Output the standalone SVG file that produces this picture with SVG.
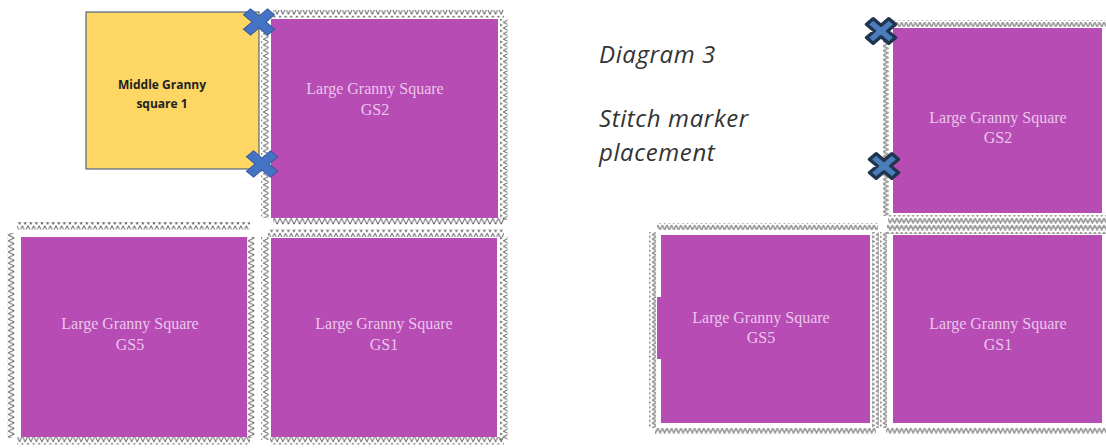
<svg xmlns="http://www.w3.org/2000/svg" width="1106" height="448" viewBox="0 0 1106 448">
<defs>
<pattern id="zzh" patternUnits="userSpaceOnUse" width="5.6" height="7.5"><path d="M0 0.6 L2.8 6.9 L5.6 0.6" fill="none" stroke="#4a4a4a" stroke-width="0.9"/></pattern>
<pattern id="zzv" patternUnits="userSpaceOnUse" width="7.5" height="5.6"><path d="M0.6 0 L6.9 2.8 L0.6 5.6" fill="none" stroke="#4a4a4a" stroke-width="0.9"/></pattern>
<pattern id="gzh" patternUnits="userSpaceOnUse" width="4.6" height="7"><path d="M0 1 L2.3 6 L4.6 1" fill="none" stroke="#999" stroke-width="1.6"/></pattern>
<pattern id="gzv" patternUnits="userSpaceOnUse" width="7" height="4.6"><path d="M1 0 L6 2.3 L1 4.6" fill="none" stroke="#999" stroke-width="1.6"/></pattern>
<path id="xm" d="M-5 -17 L5 -17 L5 -5 L17 -5 L17 5 L5 5 L5 17 L-5 17 L-5 5 L-17 5 L-17 -5 L-5 -5 Z" transform="rotate(45)"/>
<path id="xm2" d="M-4.5 -15 L4.5 -15 L4.5 -4.5 L15 -4.5 L15 4.5 L4.5 4.5 L4.5 15 L-4.5 15 L-4.5 4.5 L-15 4.5 L-15 -4.5 L-4.5 -4.5 Z" transform="rotate(45)"/>
</defs>
<style>
.sq{fill:#B74CB4}
.lbl{font-family:"Liberation Serif",serif;font-size:16px;fill:#EBC6EC;text-anchor:middle}
.x1{fill:#4472C4;stroke:#2F5597;stroke-width:1}
.x2{fill:#4A7EBB;stroke:#1F3550;stroke-width:3.5;stroke-linejoin:round}
.ttl{font-family:"Open Sans",sans-serif;font-style:italic;font-size:24px;letter-spacing:0.6px;fill:#333}
.mid{font-family:"Open Sans",sans-serif;font-weight:700;font-size:12px;fill:#222;text-anchor:middle}
</style>
<rect width="1106" height="448" fill="#fff"/>

<g id="middle-gs1">
<rect x="86" y="12" width="173" height="157" fill="#FDD663" stroke="#2F4F7F" stroke-width="1"/>
<text class="mid" x="162" y="89">Middle Granny</text>
<text class="mid" x="162" y="108">square 1</text>
</g>

<g id="left-gs2">
<rect x="273" y="10" width="231" height="7.5" fill="url(#zzh)"/>
<rect x="261" y="14" width="7.5" height="204" fill="url(#zzv)"/>
<rect x="500" y="19" width="7.5" height="201" fill="url(#zzv)"/>
<rect x="273" y="217" width="231" height="7.5" fill="url(#zzh)"/>
<rect class="sq" x="271" y="19" width="227" height="199"/>
<text class="lbl" x="375" y="94">Large Granny Square</text>
<text class="lbl" x="375" y="115">GS2</text>
</g>

<g id="left-gs5">
<rect x="17" y="222" width="233" height="7.5" fill="url(#zzh)"/>
<rect x="7" y="233" width="7.5" height="205" fill="url(#zzv)"/>
<rect x="247" y="237" width="7.5" height="201" fill="url(#zzv)"/>
<rect x="17" y="437" width="233" height="7.5" fill="url(#zzh)"/>
<rect class="sq" x="21" y="237" width="226" height="200"/>
<text class="lbl" x="130" y="329">Large Granny Square</text>
<text class="lbl" x="130" y="350">GS5</text>
</g>

<g id="left-gs1">
<rect x="268" y="229.5" width="236" height="7.5" fill="url(#zzh)"/>
<rect x="261" y="237" width="7.5" height="203" fill="url(#zzv)"/>
<rect x="500" y="237" width="7.5" height="203" fill="url(#zzv)"/>
<rect x="270" y="437" width="234" height="7.5" fill="url(#zzh)"/>
<rect class="sq" x="271" y="238" width="226" height="199"/>
<text class="lbl" x="384" y="329">Large Granny Square</text>
<text class="lbl" x="384" y="350">GS1</text>
</g>

<g id="left-markers">
<use href="#xm" class="x1" transform="translate(259 22) scale(1 0.85)"/>
<use href="#xm" class="x1" transform="translate(262 164) scale(1 0.85)"/>
</g>

<g id="title">
<text class="ttl" x="599" y="63">Diagram 3</text>
<text class="ttl" x="599" y="127">Stitch marker</text>
<text class="ttl" x="599" y="161">placement</text>
</g>

<g id="right-gs2">
<rect x="886" y="20" width="220" height="7" fill="url(#gzh)"/>
<rect x="883" y="28" width="7" height="188" fill="url(#gzv)"/>
<rect x="888" y="215" width="218" height="7" fill="url(#gzh)"/>
<rect class="sq" x="893" y="28" width="209" height="185"/>
<text class="lbl" x="998" y="123">Large Granny Square</text>
<text class="lbl" x="998" y="143">GS2</text>
</g>

<g id="right-gs5">
<rect x="657" y="223" width="221" height="7" fill="url(#gzh)"/>
<rect x="649" y="232" width="7" height="196" fill="url(#gzv)"/>
<rect x="872" y="232" width="7" height="196" fill="url(#gzv)"/>
<rect x="655" y="428" width="221" height="7" fill="url(#gzh)"/>
<rect class="sq" x="661" y="235" width="209" height="188"/>
<rect class="sq" x="657" y="297" width="6" height="62"/>
<text class="lbl" x="761" y="323">Large Granny Square</text>
<text class="lbl" x="761" y="343">GS5</text>
</g>

<g id="right-gs1">
<rect x="887" y="221" width="219" height="7" fill="url(#gzh)"/>
<rect x="887" y="227" width="219" height="7" fill="url(#gzh)"/>
<rect x="880" y="232" width="7" height="196" fill="url(#gzv)"/>
<rect x="886" y="427" width="220" height="7" fill="url(#gzh)"/>
<rect class="sq" x="893" y="235" width="209" height="188"/>
<text class="lbl" x="998" y="329">Large Granny Square</text>
<text class="lbl" x="998" y="350">GS1</text>
</g>

<g id="right-markers">
<use href="#xm2" class="x2" transform="translate(881 31) scale(1.05 0.9)"/>
<use href="#xm2" class="x2" transform="translate(884 166) scale(1.05 0.9)"/>
</g>
</svg>
